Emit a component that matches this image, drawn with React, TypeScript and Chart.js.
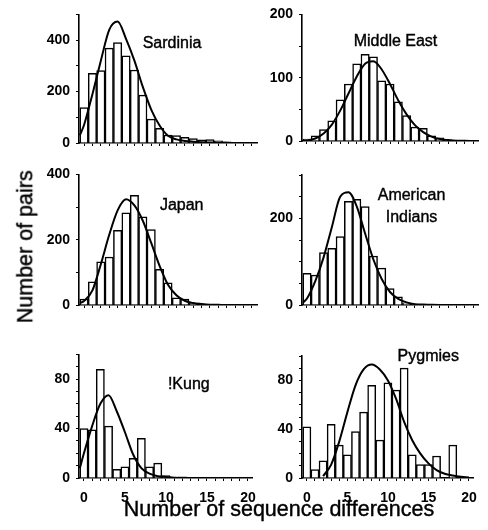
import React, { useEffect, useRef } from 'react';
import { Chart, registerables } from 'chart.js';

Chart.register(...registerables);
Chart.defaults.font.family = '"Liberation Sans", Arial, Helvetica, sans-serif';

// Number of sequence differences (histogram bins)
const bins = [0, 1, 2, 3, 4, 5, 6, 7, 8, 9, 10, 11, 12, 13, 14, 15, 16, 17, 18, 19, 20];
// x positions of the fitted curve points
const curveX = [-0.5, 0, 1, 2, 3, 4, 5, 6, 7, 8, 9, 10, 11, 12, 13, 14, 15, 16, 17, 18, 19, 20];

const sardiniaBars = [138, 271, 282, 369, 390, 339, 284, 186, 93, 57, 31, 29, 22, 17, 12, 13, 8, 5, 2, 0, 0];
const sardiniaCurve = [30, 70, 190, 320, 440, 472, 405, 320, 218, 130, 68, 28, 14, 8, 5, 3, 2, 1, 0.5, 0, 0, 0];

const middleEastBars = [3, 8, 18, 32, 65, 90, 122, 137, 133, 95, 90, 62, 40, 22, 20, 8, 5, 2, 1, 0, 0];
const middleEastCurve = [0.5, 1, 4, 12, 26, 48, 75, 102, 122, 126, 113, 90, 64, 42, 25, 14, 7, 3, 1.5, 0.5, 0.2, 0];

const japanBars = [18, 71, 132, 147, 229, 282, 336, 270, 231, 109, 68, 22, 18, 5, 0, 0, 0, 0, 0, 0, 0];
const japanCurve = [6, 12, 45, 125, 215, 290, 324, 305, 258, 190, 120, 62, 30, 13, 6, 3, 1, 0.5, 0, 0, 0, 0];

const amerindBars = [73, 69, 121, 131, 158, 239, 244, 227, 113, 85, 38, 19, 5, 2, 0, 0, 0, 0, 0, 0, 0];
const amerindCurve = [5, 15, 55, 110, 180, 250, 260, 227, 165, 105, 60, 30, 14, 6, 2, 1, 0.3, 0, 0, 0, 0, 0];

const kungBars = [40, 39, 88, 42, 7, 9, 16, 32, 9, 12, 2, 0, 1, 0, 0, 0, 0, 0, 0, 0, 0];
const kungCurve = [8, 20, 42, 60, 67, 54, 37, 19, 8, 3.5, 1.5, 0.8, 0.3, 0, 0, 0, 0, 0, 0, 0, 0, 0];

const pygmyBars = [42, 7, 14, 44, 27, 19, 38, 54, 76, 31, 78, 72, 90, 19, 11, 11, 18, 0, 27, 0, 0];
const pygmyCurve = [null, null, null, 1.5, 11, 30, 54, 76, 89, 93, 89, 80, 65, 46, 31, 20, 12, 6.5, 3.5, 2, 1, 0.5];

// y-axis tick settings: [max, minor step, labelled step]
const sardiniaY = [500, 100, 200];
const middleEastY = [200, 50, 100];
const japanY = [400, 100, 200];
const amerindY = [300, 50, 200];
const kungY = [100, 10, 40];
const pygmyY = [100, 10, 40];

const X_MIN = -0.6;
const X_MAX = 20.6;
const Y_AXIS_W = 60;
const RIGHT_PAD = 8;

type PanelSpec = {
  key: string;
  lines: string[];
  bars: number[];
  curve: (number | null)[];
  y: number[];
  left: number;
  top: number;
  width: number;
  height: number;
  padTop: number;
  xAxisH: number;
  showX: boolean;
  labelCx: number;
  labelTop: number;
};

const panels: PanelSpec[] = [
  { key: 'sar', lines: ['Sardinia'], bars: sardiniaBars, curve: sardiniaCurve, y: sardiniaY,
    left: 19, top: 0, width: 246, height: 160, padTop: 14, xAxisH: 17, showX: false, labelCx: 172, labelTop: 34.8 },
  { key: 'me', lines: ['Middle East'], bars: middleEastBars, curve: middleEastCurve, y: middleEastY,
    left: 242, top: 0, width: 244, height: 160, padTop: 14, xAxisH: 19, showX: false, labelCx: 395.5, labelTop: 33.1 },
  { key: 'jp', lines: ['Japan'], bars: japanBars, curve: japanCurve, y: japanY,
    left: 19, top: 160, width: 246, height: 160, padTop: 14, xAxisH: 15, showX: false, labelCx: 181.7, labelTop: 197.3 },
  { key: 'ai', lines: ['American', 'Indians'], bars: amerindBars, curve: amerindCurve, y: amerindY,
    left: 242, top: 160, width: 244, height: 160, padTop: 15, xAxisH: 15, showX: false, labelCx: 411.5, labelTop: 184.3 },
  { key: 'ku', lines: ['!Kung'], bars: kungBars, curve: kungCurve, y: kungY,
    left: 19, top: 340, width: 246, height: 165, padTop: 11, xAxisH: 27, showX: true, labelCx: 188.8, labelTop: 376.4 },
  { key: 'py', lines: ['Pygmies'], bars: pygmyBars, curve: pygmyCurve, y: pygmyY,
    left: 242, top: 340, width: 244, height: 165, padTop: 16, xAxisH: 27, showX: true, labelCx: 428.3, labelTop: 348 },
];

function PanelChart({ p }: { p: PanelSpec }) {
  const ref = useRef<HTMLCanvasElement>(null);
  useEffect(() => {
    if (!ref.current) return;
    const [yMax, yStep, yLabelStep] = p.y;
    const chart = new Chart(ref.current, {
      type: 'bar',
      data: {
        datasets: [
          {
            type: 'line',
            data: curveX.map((x, i) => ({ x, y: p.curve[i] })),
            borderColor: '#000',
            borderWidth: 2,
            pointRadius: 0,
            cubicInterpolationMode: 'monotone',
            fill: false,
            spanGaps: false,
            order: 0,
          } as any,
          {
            type: 'bar',
            data: bins.map((x, i) => ({ x, y: p.bars[i] })),
            backgroundColor: '#fff',
            borderColor: '#000',
            borderWidth: 1.5,
            barPercentage: 1,
            categoryPercentage: 1,
            borderSkipped: 'start',
            order: 1,
          } as any,
        ],
      },
      options: {
        animation: false,
        responsive: false,
        events: [],
        layout: { padding: { top: p.padTop, right: RIGHT_PAD, left: 0, bottom: 0 } },
        plugins: { legend: { display: false }, tooltip: { enabled: false }, title: { display: false } },
        scales: {
          x: {
            type: 'linear',
            min: X_MIN,
            max: X_MAX,
            offset: false,
            grid: { display: true, drawOnChartArea: false, drawTicks: true, tickLength: 3, color: '#000', lineWidth: 1, offset: false },
            border: { display: true, color: '#000', width: 1.6 },
            ticks: {
              stepSize: 1,
              autoSkip: false,
              includeBounds: false,
              maxRotation: 0,
              padding: 9,
              color: '#000',
              font: { size: 14, weight: 'bold' },
              callback: (v: any) => (p.showX && Number(v) % 5 === 0 ? String(v) : ''),
            },
            afterFit: (s: any) => { s.height = p.xAxisH; },
          } as any,
          y: {
            type: 'linear',
            min: 0,
            max: yMax,
            grid: { display: true, drawOnChartArea: false, drawTicks: true, tickLength: 3, color: '#000', lineWidth: 1 },
            border: { display: true, color: '#000', width: 1.6 },
            ticks: {
              stepSize: yStep,
              autoSkip: false,
              padding: 6,
              color: '#000',
              font: { size: 14, weight: 'bold' },
              callback: (v: any) => (Number(v) % yLabelStep === 0 ? String(v) : ''),
            },
            afterFit: (s: any) => { s.width = Y_AXIS_W; },
          } as any,
        },
      },
    });
    return () => chart.destroy();
  }, [p]);

  return (
    <canvas
      ref={ref}
      width={p.width}
      height={p.height}
      style={{ position: 'absolute', left: p.left, top: p.top, width: p.width, height: p.height }}
    />
  );
}

const font = '"Liberation Sans", Arial, Helvetica, sans-serif';
const stroke = { WebkitTextStroke: '0.4px #000' } as any;

export default function App() {
  return (
    <div style={{ position: 'absolute', left: 0, top: 0, width: 488, height: 530, background: '#fff', overflow: 'hidden', fontFamily: font, color: '#000' }}>
      {panels.map((p) => (
        <PanelChart key={p.key} p={p} />
      ))}
      {panels.map((p) => (
        <div
          key={p.key + '-label'}
          style={{ position: 'absolute', left: p.labelCx - 60, top: p.labelTop, width: 120, textAlign: 'center', fontSize: 16, lineHeight: p.lines.length > 1 ? '22px' : '16px', whiteSpace: 'nowrap', ...stroke }}
        >
          {p.lines.map((l, i) => (
            <div key={i}>{l}</div>
          ))}
        </div>
      ))}
      <div style={{ position: 'absolute', left: 26 - 110, top: 247 - 10.75, width: 220, height: 21.5, lineHeight: '21.5px', fontSize: 21.5, textAlign: 'center', transform: 'rotate(-90deg)', transformOrigin: '50% 50%', whiteSpace: 'nowrap', ...stroke }}>
        Number of pairs
      </div>
      <div style={{ position: 'absolute', left: 279 - 180, top: 498.8, width: 360, lineHeight: '21.5px', fontSize: 21.5, textAlign: 'center', whiteSpace: 'nowrap', ...stroke }}>
        Number of sequence differences
      </div>
    </div>
  );
}
